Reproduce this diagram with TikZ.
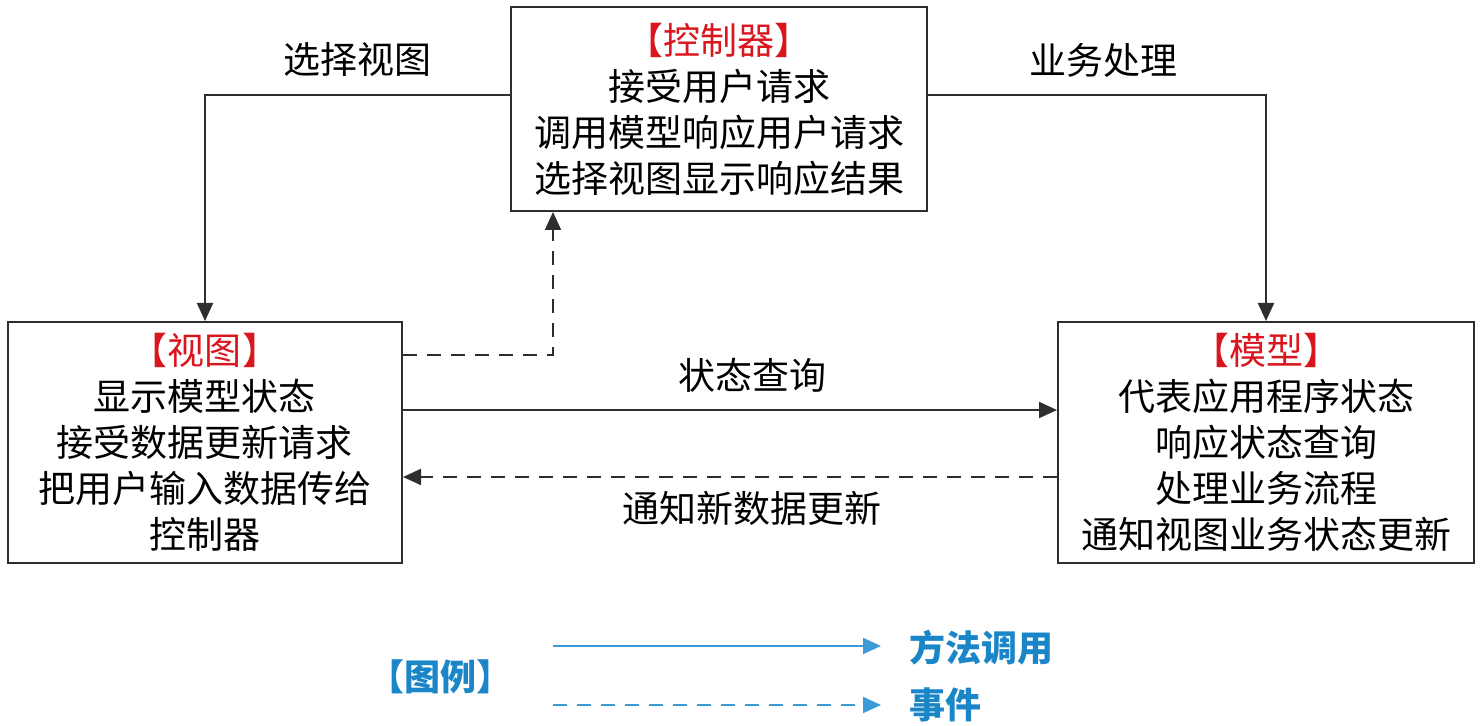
\documentclass[tikz,border=0pt]{standalone}
\usepackage{fontspec}
\setmainfont{Noto Sans CJK SC}
\usetikzlibrary{arrows.meta}
\definecolor{ln}{HTML}{2E2E2E}
\definecolor{ttl}{HTML}{D9161E}
\definecolor{lgd}{HTML}{1A86C8}
\definecolor{lgdl}{HTML}{3C9AD6}
\tikzset{
  box/.style={draw=ln, line width=1pt, inner sep=0pt, align=center,
    font={\fontsize{18.5}{23}\selectfont}, text=black},
  lbl/.style={font={\fontsize{18.5}{23}\selectfont}, text=black, inner sep=0pt},
  arr/.style={draw=ln, line width=1pt, -{Triangle[length=9pt,width=8pt]}},
  evt/.style={arr, dash pattern=on 7pt off 5pt},
  lgdarr/.style={draw=lgdl, line width=1pt, -{Triangle[length=9pt,width=8pt]}},
  lgdevt/.style={lgdarr, dash pattern=on 7pt off 5pt},
  lgdtxt/.style={font={\fontsize{18}{23}\selectfont\bfseries}, text=lgd, inner sep=0pt}
}
\begin{document}
\begin{tikzpicture}[x=0.5pt,y=-0.5pt]
\useasboundingbox (0,0) rectangle (1482,726);
\node[box, minimum width=208pt, minimum height=102pt] (ctrl) at (719,109)
  {\textcolor{ttl}{【控制器】}\\接受用户请求\\调用模型响应用户请求\\选择视图显示响应结果};
\node[box, minimum width=197pt, minimum height=120.5pt] (view) at (205,442.5)
  {\textcolor{ttl}{【视图】}\\显示模型状态\\接受数据更新请求\\把用户输入数据传给\\控制器};
\node[box, minimum width=208pt, minimum height=120.5pt] (model) at (1266,442.5)
  {\textcolor{ttl}{【模型】}\\代表应用程序状态\\响应状态查询\\处理业务流程\\通知视图业务状态更新};
\draw[arr] (ctrl.west |- 0,95) -| (view.north);
\draw[arr] (ctrl.east |- 0,95) -| (model.north);
\draw[evt] (view.east |- 0,355) -| (ctrl.south -| 553,0);
\draw[arr] (view.east |- 0,410) -- (model.west |- 0,410);
\draw[evt] (model.west |- 0,477) -- (view.east |- 0,477);
\node[lbl] (l1) at (357,60) {选择视图};
\node[lbl] (l2) at (1103,60) {业务处理};
\node[lbl] (l3) at (752,375) {状态查询};
\node[lbl] (l4) at (752,508) {通知新数据更新};
\node[lgdtxt] (lg) at (440,677) {【图例】};
\coordinate (a1) at (553,646);
\coordinate (b1) at (881,646);
\coordinate (a2) at (553,705);
\coordinate (b2) at (881,705);
\node[lgdtxt, anchor=west] (m1) at (909,648) {方法调用};
\node[lgdtxt, anchor=west] (m2) at (909,705) {事件};
\draw[lgdarr] (a1) -- (b1);
\draw[lgdevt] (a2) -- (b2);
\end{tikzpicture}
\end{document}
